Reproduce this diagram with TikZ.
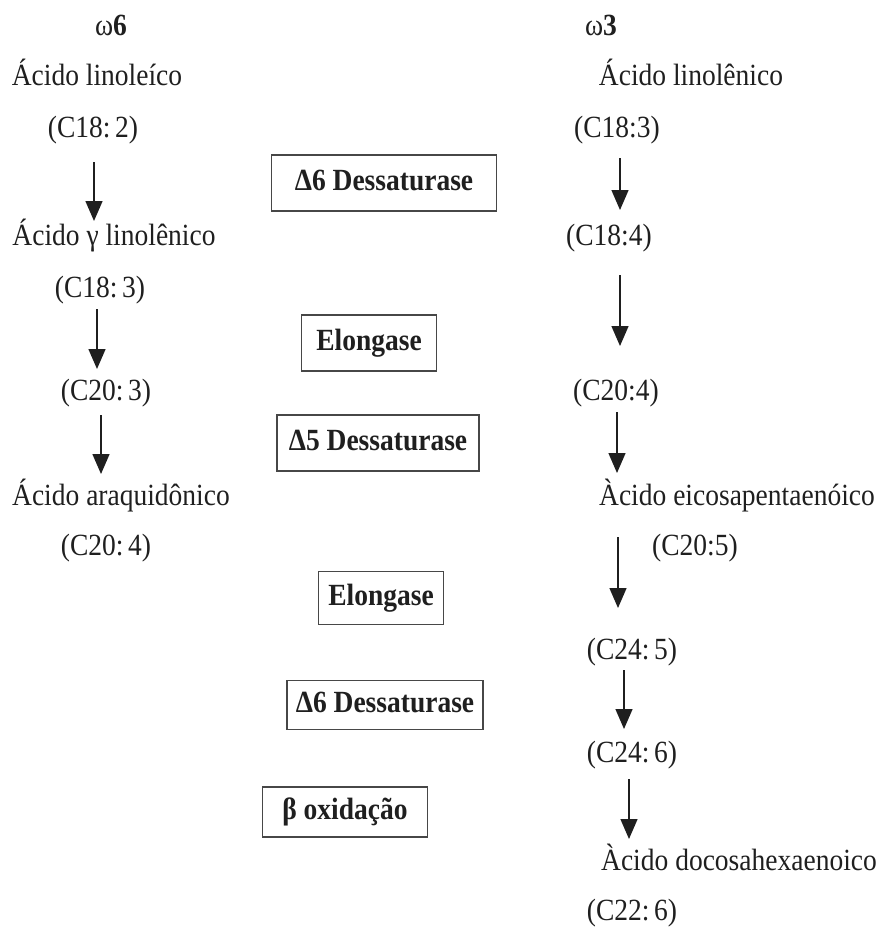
\documentclass[tikz,border=0pt]{standalone}
\usepackage{fontspec}
\setmainfont{Liberation Serif}
\usetikzlibrary{arrows.meta}
\newcommand\vst[1]{\scalebox{1}[1.12]{#1}}
\begin{document}
\begin{tikzpicture}[x=1pt,y=-1pt,
  every node/.style={font=\fontsize{27.5}{33}\selectfont, text=black!88},
  lbl/.style={inner sep=0pt, text height=21pt, text depth=6pt, anchor=center},
  enz/.style={draw=black!72, line width=1.8pt, inner sep=0pt, text height=21pt, text depth=6pt, font=\fontsize{27.5}{33}\selectfont\bfseries},
  arr/.style={draw=black!88, line width=1.4pt, -{Triangle[length=20pt,width=17pt]}}
]
\useasboundingbox (0,0) rectangle (877,927);
% omega-6 column
\node[lbl] (w6) at (111,28) {\vst{ω\textbf{6}}};
\node[lbl] (l1) at (97,78) {\vst{Ácido linoleíco}};
\node[lbl] (l2) at (93,130) {\vst{(C18:\,2)}};
\node[lbl] (l3) at (114,238) {\vst{Ácido γ linolênico}};
\node[lbl] (l4) at (100,290) {\vst{(C18:\,3)}};
\node[lbl] (l5) at (106,393) {\vst{(C20:\,3)}};
\node[lbl] (l6) at (121,498) {\vst{Ácido araquidônico}};
\node[lbl] (l7) at (106,548) {\vst{(C20:\,4)}};
% omega-3 column
\node[lbl] (w3) at (601,28) {\vst{ω\textbf{3}}};
\node[lbl] (r1) at (691,78) {\vst{Ácido linolênico}};
\node[lbl] (r2) at (617,130) {\vst{(C18:3)}};
\node[lbl] (r3) at (609,238) {\vst{(C18:4)}};
\node[lbl] (r4) at (616,393) {\vst{(C20:4)}};
\node[lbl] (r5) at (737,498) {\vst{Àcido eicosapentaenóico}};
\node[lbl] (r6) at (695,548) {\vst{(C20:5)}};
\node[lbl] (r7) at (632,652) {\vst{(C24:\,5)}};
\node[lbl] (r8) at (632,755) {\vst{(C24:\,6)}};
\node[lbl] (r9) at (739,863) {\vst{Àcido docosahexaenoico}};
\node[lbl] (r10) at (632,913) {\vst{(C22:\,6)}};
% enzyme boxes
\node[enz, minimum width=225pt, minimum height=56pt] (e1) at (384,183) {\vst{Δ6 Dessaturase}};
\node[enz, minimum width=135pt, minimum height=56pt] (e2) at (369,343) {\vst{Elongase}};
\node[enz, minimum width=202pt, minimum height=56pt] (e3) at (378,443) {\vst{Δ5 Dessaturase}};
\node[enz, minimum width=125pt, minimum height=53pt] (e4) at (381,598) {\vst{Elongase}};
\node[enz, minimum width=196pt, minimum height=49pt] (e5) at (385,705) {\vst{Δ6 Dessaturase}};
\node[enz, minimum width=165pt, minimum height=50pt] (e6) at (345,812) {\vst{β oxidação}};
% arrow end points
\coordinate (la1s) at (94,162);  \coordinate (la1e) at (94,221);
\coordinate (la2s) at (97,309);  \coordinate (la2e) at (97,369);
\coordinate (la3s) at (101,415); \coordinate (la3e) at (101,474);
\coordinate (ra1s) at (620,158); \coordinate (ra1e) at (620,210);
\coordinate (ra2s) at (620,275); \coordinate (ra2e) at (620,346);
\coordinate (ra3s) at (617,412); \coordinate (ra3e) at (617,473);
\coordinate (ra4s) at (618,537); \coordinate (ra4e) at (618,608);
\coordinate (ra5s) at (624,670); \coordinate (ra5e) at (624,729);
\coordinate (ra6s) at (629,779); \coordinate (ra6e) at (629,839);
% arrows
\draw[arr] (la1s) -- (la1e);
\draw[arr] (la2s) -- (la2e);
\draw[arr] (la3s) -- (la3e);
\draw[arr] (ra1s) -- (ra1e);
\draw[arr] (ra2s) -- (ra2e);
\draw[arr] (ra3s) -- (ra3e);
\draw[arr] (ra4s) -- (ra4e);
\draw[arr] (ra5s) -- (ra5e);
\draw[arr] (ra6s) -- (ra6e);
\end{tikzpicture}
\end{document}
